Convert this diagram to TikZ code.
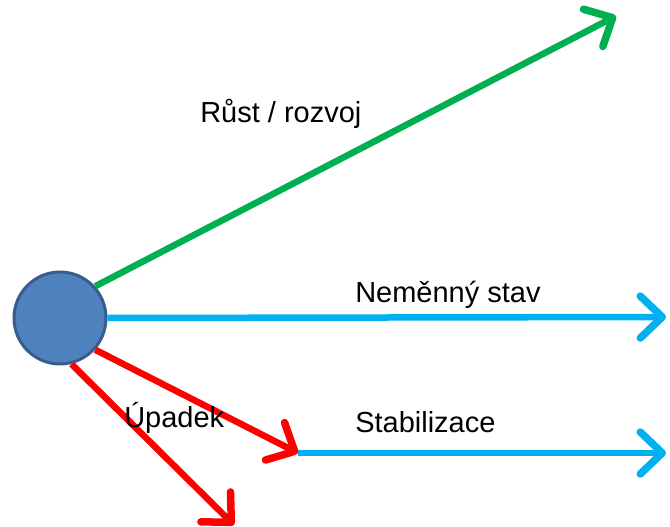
\documentclass[tikz,border=0pt]{standalone}
\usepackage{fontspec}
\setmainfont{Liberation Sans}
\usetikzlibrary{arrows.meta}

\definecolor{rustgreen}{HTML}{00B050}
\definecolor{stavblue}{HTML}{00B0F0}
\definecolor{ballfill}{HTML}{4F81BD}
\definecolor{ballline}{HTML}{385D8A}

\begin{document}
\begin{tikzpicture}[x=1pt,y=-1pt,line width=6.5pt,
	>={Straight Barb[length=22pt,width=42pt,round,line width=7.5pt]},
	lbl/.style={anchor=base west,inner sep=0pt,font=\fontsize{29}{33}\selectfont}]
		\useasboundingbox (0,0) rectangle (670,527);
		\node (ball) [circle,minimum size=92pt,inner sep=0pt,fill=ballfill,draw=ballline,line width=3pt] at (60,318) {};
		\coordinate (rust) at (616,16);
		\coordinate (stav) at (666,317);
		\coordinate (stab) at (298,453);
		\coordinate (stabend) at (666,453);
		\coordinate (pad) at (234,525);
		\draw [->,rustgreen] (ball.42) to (rust);
		\draw [->,stavblue] (ball.east) to (stav);
		\draw [->,stavblue] (stab) to (stabend);
		\draw [->,red] (ball.-42) to (stab);
		\draw [->,red] (ball.-76) to (pad);
		\node (lrust) [lbl] at (197,123) {Růst / rozvoj};
		\node (lstav) [lbl] at (352,302) {Neměnný stav};
		\node (lpad) [lbl] at (121,427) {Úpadek};
		\node (lstab) [lbl] at (352,432) {Stabilizace};
\end{tikzpicture}
\end{document}
